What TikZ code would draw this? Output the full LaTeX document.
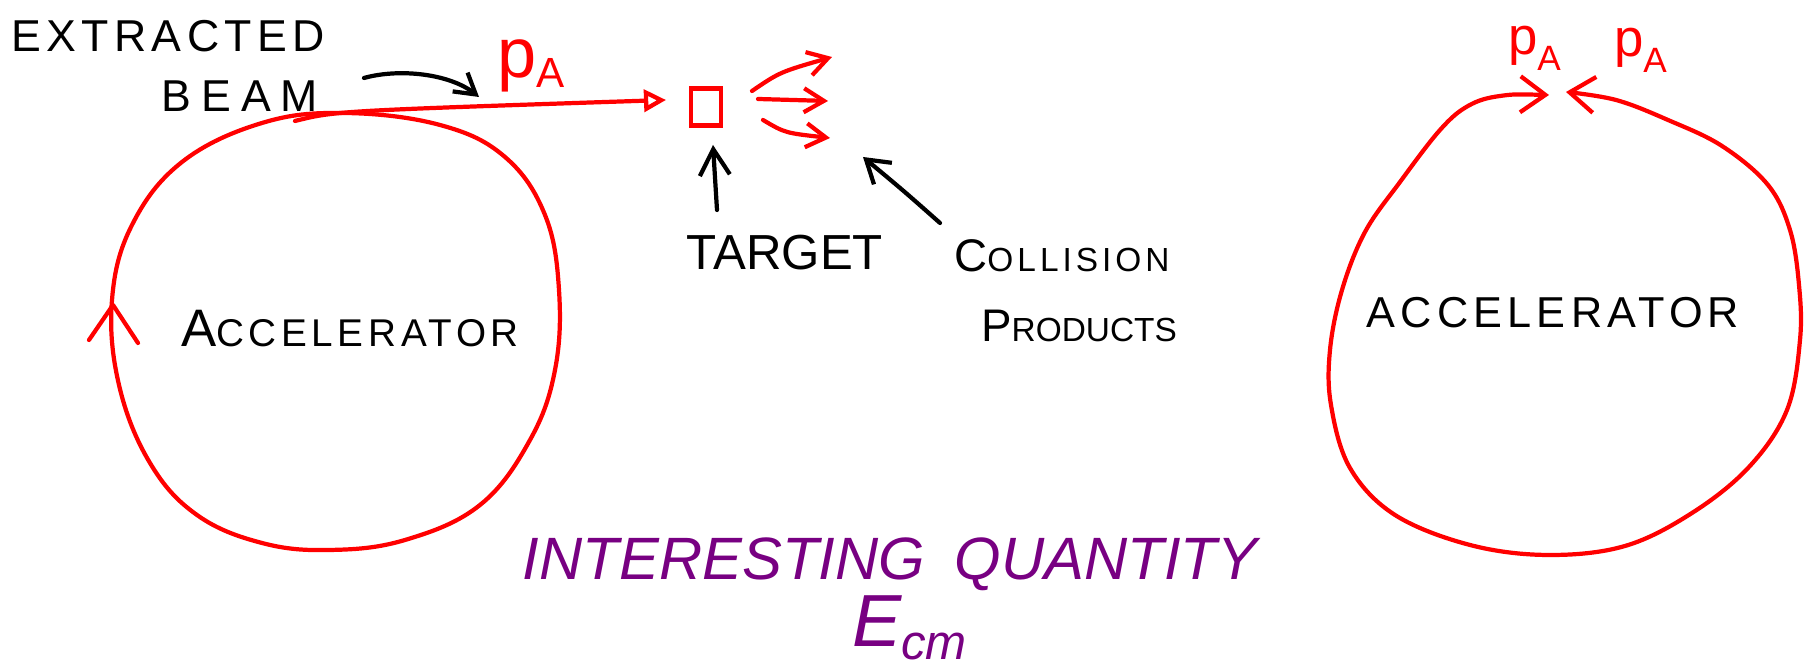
\documentclass[tikz,border=0pt]{standalone}
\usepackage{fontspec}
\setmainfont{Liberation Sans}
\newfontfamily\hand{Liberation Sans}
\newfontfamily\handsp[LetterSpace=12]{Liberation Sans}
\newfontfamily\handwide[LetterSpace=22]{Liberation Sans}
\usetikzlibrary{arrows.meta}
\definecolor{skred}{RGB}{255,0,0}
\definecolor{skpurple}{RGB}{120,0,130}
\tikzset{
  redline/.style={draw=skred, line width=1.2pt, line cap=round, line join=round},
  inkline/.style={draw=black, line width=1.2pt, line cap=round, line join=round},
  lbl/.style={inner sep=0pt, outer sep=0pt, anchor=base},
  barb/.style={-{Straight Barb[length=0.2cm,width=0.24cm]}},
  bigbarb/.style={-{Straight Barb[length=0.26cm,width=0.3cm]}},
  ringbarbs/.style={{Straight Barb[length=0.25cm,width=0.36cm]}-{Straight Barb[length=0.25cm,width=0.36cm]}},
}
\begin{document}
\begin{tikzpicture}[x=0.01cm,y=-0.01cm]
\path[use as bounding box, fill=white] (0,0) rectangle (1805,671);

% ---------- left accelerator ring ----------
\draw[redline] plot[smooth cycle, tension=0.65] coordinates {(344,113) (440,125) (505,157) (545,215) (559,290) (555,370) (530,440) (480,505) (405,540) (330,550) (262,543) (197,515) (150,463) (119,385) (112,300) (132,225) (182,162) (262,123)};
\coordinate (chev) at (113,305);
\coordinate (chevl) at (89,340);
\coordinate (chevr) at (138,343);
\draw[redline] (chevl) -- (chev) -- (chevr);

% ---------- extracted beam ----------
\coordinate (bstart) at (295,121);
\coordinate (btip) at (666,100);
\draw[redline, -{Triangle[open,length=0.22cm,width=0.22cm]}] (bstart) .. controls (335,111) .. (btip);

% ---------- target ----------
\node[draw=skred, line width=1.2pt, inner sep=0pt, minimum width=0.3cm, minimum height=0.37cm] (target) at (706,107) {};

% ---------- collision products ----------
\coordinate (p1s) at (752,91);  \coordinate (p1e) at (832,57);
\coordinate (p2s) at (758,99);  \coordinate (p2e) at (828,101);
\coordinate (p3s) at (763,120); \coordinate (p3e) at (830,138);
\draw[redline, barb] (p1s) .. controls (780,72) .. (p1e);
\draw[redline, barb] (p2s) -- (p2e);
\draw[redline, barb] (p3s) .. controls (785,133) .. (p3e);

% ---------- labels (left part) ----------
\node[lbl, font=\handsp\fontsize{12.7}{15}\selectfont] (extracted) at (168,52) {EXTRACTED};
\node[lbl, font=\handwide\fontsize{12.7}{15}\selectfont] (beam) at (240,112) {BEAM};
\node[lbl, anchor=base west, text=skred, font=\hand\fontsize{20}{22}\selectfont] (pa) at (497,78) {p\raisebox{-2.6pt}{\fontsize{12}{12}\selectfont A}};
\node[lbl, font=\handsp\fontsize{15}{17}\selectfont] (accl) at (350,347) {A{\fontsize{11}{13}\selectfont CCELERATOR}};
\node[lbl, font=\hand\fontsize{14}{16}\selectfont] (targetlbl) at (785,270) {TARGET};
\node[lbl, font=\handsp\fontsize{13}{15}\selectfont] (collision) at (1062,272) {C{\fontsize{9.5}{11}\selectfont OLLISION}};
\node[lbl, font=\hand\fontsize{13}{15}\selectfont] (products) at (1079,342) {P{\fontsize{9.5}{11}\selectfont RODUCTS}};

% ---------- black pointer arrows ----------
\coordinate (beamarrs) at (364,78);
\coordinate (beamarre) at (479,97);
\draw[inkline, -{Straight Barb[length=0.2cm,width=0.24cm]}] (beamarrs) .. controls (400,68) and (450,74) .. (beamarre);
\coordinate (targs) at (717,210);
\coordinate (targe) at (713,145);
\draw[inkline, bigbarb] (targs) -- (targe);
\coordinate (colls) at (940,223);
\coordinate (colle) at (863,157);
\draw[inkline, -{Straight Barb[length=0.22cm,width=0.28cm]}] (colls) .. controls (905,192) .. (colle);

% ---------- right collider ring ----------
\draw[redline, ringbarbs] plot[smooth, tension=0.6] coordinates {(1549,95) (1500,96) (1468,106) (1440,130) (1400,182) (1365,232) (1342,290) (1330,350) (1331,405) (1350,468) (1395,515) (1470,545) (1548,555) (1625,546) (1692,513) (1749,467) (1787,410) (1800,340) (1799,285) (1790,230) (1768,185) (1722,146) (1668,120) (1616,100) (1566,92)};
\node[lbl, anchor=base west, text=skred, font=\hand\fontsize{15}{17}\selectfont] (pal) at (1508,55) {p\raisebox{-4.3pt}{\fontsize{10}{10}\selectfont A}};
\node[lbl, anchor=base west, text=skred, font=\hand\fontsize{15}{17}\selectfont] (par) at (1614,57) {p\raisebox{-4.3pt}{\fontsize{10}{10}\selectfont A}};
\node[lbl, font=\handsp\fontsize{12.3}{15}\selectfont] (accr) at (1553,328) {ACCELERATOR};

% ---------- interesting quantity ----------
\node[lbl, text=skpurple, font=\hand\itshape\fontsize{17}{20}\selectfont] (iq) at (890,580) {INTERESTING\enspace QUANTITY};
\node[lbl, anchor=base west, text=skpurple, font=\hand\itshape\fontsize{21}{24}\selectfont] (ecm) at (852,647) {E\raisebox{-3.5pt}{\fontsize{14}{14}\selectfont cm}};
\end{tikzpicture}
\end{document}
